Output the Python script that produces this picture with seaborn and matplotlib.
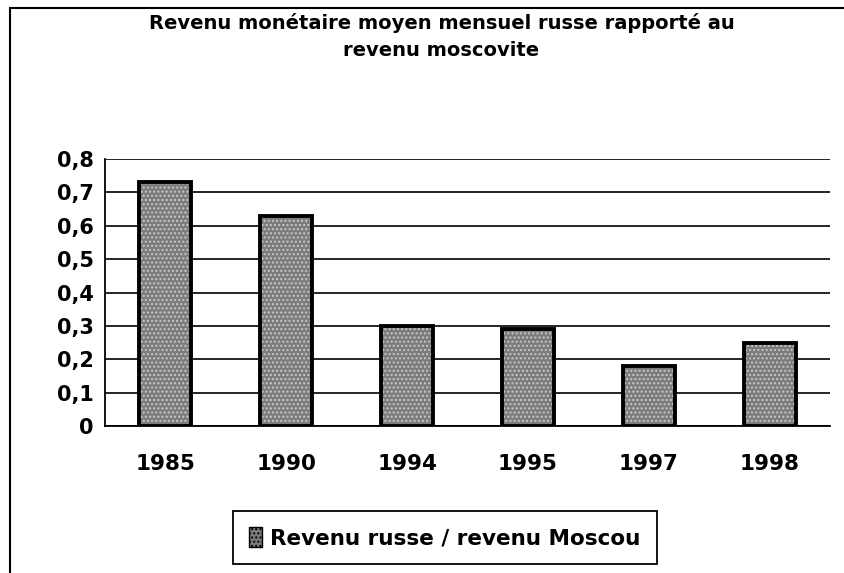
import matplotlib
matplotlib.use("Agg")
import matplotlib.pyplot as plt
import matplotlib.patches as mpatches
import seaborn as sns
import pandas as pd

# === DONNEES ===
annees = ["1985", "1990", "1994", "1995", "1997", "1998"]
ratio = [0.73, 0.63, 0.30, 0.29, 0.18, 0.25]
yticks = [0, 0.1, 0.2, 0.3, 0.4, 0.5, 0.6, 0.7, 0.8]
ytick_labels = ["0", "0,1", "0,2", "0,3", "0,4", "0,5", "0,6", "0,7", "0,8"]
titre = "Revenu monétaire moyen mensuel russe rapporté au\nrevenu moscovite"
legende = "Revenu russe / revenu Moscou"

df = pd.DataFrame({"annee": annees, "ratio": ratio})

sns.set_style("white")
plt.rcParams["font.family"] = ["DejaVu Sans"]
plt.rcParams["text.color"] = "black"
plt.rcParams["xtick.color"] = "black"
plt.rcParams["ytick.color"] = "black"
plt.rcParams["xtick.labelcolor"] = "black"
plt.rcParams["ytick.labelcolor"] = "black"

fig = plt.figure(figsize=(8.44, 5.73), dpi=100)
ax = fig.add_axes([0.1244, 0.2565, 0.859, 0.4660])

sns.barplot(x="annee", y="ratio", data=df, color="#7c7c7c", width=0.43,
            ax=ax, zorder=3, saturation=1)

# motif pointillé + contour noir
for p in list(ax.patches):
    p.set_hatch("....")
    p.set_edgecolor("#c8c8c8")
    p.set_linewidth(0)
    outline = mpatches.Rectangle(p.get_xy(), p.get_width(), p.get_height(),
                                 fill=False, edgecolor="black", linewidth=2.8, zorder=4)
    ax.add_patch(outline)

ax.set_ylim(0, 0.8)
ax.set_xlim(-0.5, len(annees) - 0.5)
ax.set_yticks(yticks)
ax.set_yticklabels(ytick_labels, fontsize=15, fontweight="bold")
ax.yaxis.grid(True, color="black", linewidth=1.2)
ax.set_axisbelow(True)

ax.set_xticks(range(len(annees)))
ax.set_xticklabels(annees, fontsize=15.5, fontweight="bold")
ax.set_xticks([i - 0.5 for i in range(len(annees) + 1)], minor=True)
ax.tick_params(axis="x", which="major", length=0, pad=20)
ax.tick_params(axis="x", which="minor", length=4, width=1, direction="out")
ax.tick_params(axis="y", length=5, width=1, pad=3)
ax.set_xlabel("")
ax.set_ylabel("")

for s in ["top", "right"]:
    ax.spines[s].set_visible(False)
for s in ["left", "bottom"]:
    ax.spines[s].set_color("black")
    ax.spines[s].set_linewidth(1.3)

fig.text(0.523, 0.936, titre, ha="center", va="center", fontsize=14,
         fontweight="bold", linespacing=1.55)

# légende
leg_handle = mpatches.Patch(facecolor="#7c7c7c", edgecolor="black", hatch="....", label=legende)
leg = fig.legend(handles=[leg_handle], loc="center", bbox_to_anchor=(0.527, 0.062),
                 prop={"size": 15.5, "weight": "bold"}, frameon=True, fancybox=False,
                 framealpha=1, edgecolor="black", handlelength=0.6, handleheight=1.1,
                 handletextpad=0.4, borderpad=0.75)
leg.get_frame().set_linewidth(1.3)

# cadre du graphique
fig.patches.append(mpatches.Rectangle((0.012, -0.01), 1.0, 0.996, transform=fig.transFigure,
                                      fill=False, edgecolor="black", linewidth=1.5))

plt.savefig("out.png", dpi=100)
plt.close()
